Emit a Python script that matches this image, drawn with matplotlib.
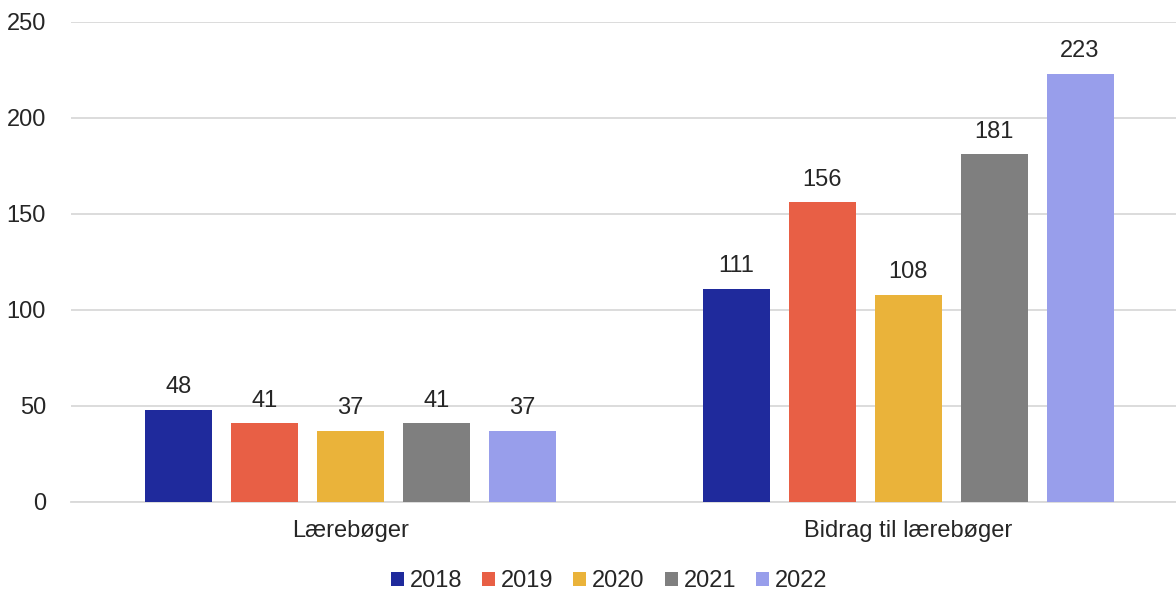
import matplotlib.pyplot as plt
import numpy as np

plt.rcParams['font.family'] = ['Liberation Sans', 'DejaVu Sans']

categories = ['Lærebøger', 'Bidrag til lærebøger']
years = ['2018', '2019', '2020', '2021', '2022']
values = {
    '2018': [48, 111],
    '2019': [41, 156],
    '2020': [37, 108],
    '2021': [41, 181],
    '2022': [37, 223],
}
colors = ['#1F2A9C', '#E85F45', '#EAB33A', '#7F7F7F', '#989EEB']

fig = plt.figure(figsize=(11.76, 5.93), dpi=100)
ax = fig.add_axes([0.0604, 0.1535, 0.9396, 0.8095])

x = np.arange(len(categories))
w = 0.12
pitch = 0.154
for i, yr in enumerate(years):
    pos = x + (i - 2) * pitch
    bars = ax.bar(pos, values[yr], w, color=colors[i], label=yr, zorder=3)
    for b, v in zip(bars, values[yr]):
        ax.text(b.get_x() + b.get_width() / 2, v + 6, str(v),
                ha='center', va='bottom', fontsize=17, color='#262626')

ax.set_ylim(0, 250)
ax.set_xlim(-0.501, 1.48)
ax.set_yticks(range(0, 251, 50))
ax.yaxis.grid(True, color='#d9d9d9', linewidth=1.3, zorder=0)
ax.set_xticks(x)
ax.set_xticklabels(categories)
ax.tick_params(axis='both', length=0, labelsize=17, colors='#262626')
ax.tick_params(axis='x', pad=13)
ax.tick_params(axis='y', pad=18)
for s in ['top', 'right', 'left']:
    ax.spines[s].set_visible(False)
ax.spines['bottom'].set_color('#d9d9d9')
ax.spines['bottom'].set_linewidth(1.3)

ax.legend(loc='center', bbox_to_anchor=(0.487, -0.165), ncol=5, frameon=False,
          fontsize=17, handlelength=0.55, handleheight=0.55, handletextpad=0.25,
          columnspacing=0.85, labelcolor='#262626')

fig.savefig('out.png', dpi=100)
